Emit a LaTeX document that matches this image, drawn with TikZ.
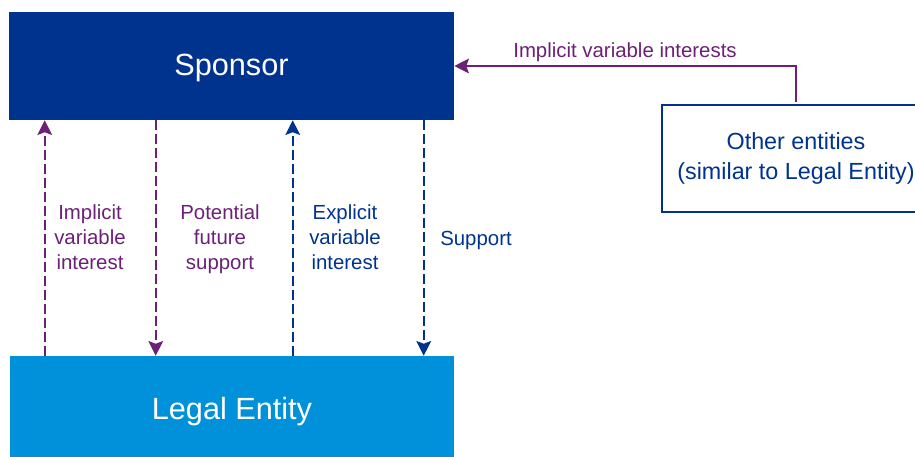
\documentclass[tikz,border=0pt]{standalone}
\usepackage{fontspec}
\setmainfont{Liberation Sans}
\usetikzlibrary{arrows.meta}
\definecolor{kdark}{HTML}{00338D}
\definecolor{klight}{HTML}{0091DA}
\definecolor{kpurple}{HTML}{6D2077}
\begin{document}
\begin{tikzpicture}[x=0.75pt,y=-0.75pt,
  bigbox/.style={draw=none,inner sep=0pt,text=white,font=\fontsize{23}{27}\selectfont},
  lbl/.style={align=center,inner sep=0pt,anchor=base,font=\fontsize{15.3}{18.4}\selectfont},
  dasharr/.style={dash pattern=on 7pt off 3.5pt,line width=1.25pt,-{Stealth[length=11pt,width=11pt,inset=2pt]}},
  solarr/.style={line width=1.1pt,-{Stealth[length=11pt,width=11pt,inset=2pt]}}]
\useasboundingbox (0,0) rectangle (915,457);
\clip (0,0) rectangle (915,457);
\fill[white] (0,0) rectangle (915,457);
\node[bigbox,fill=kdark,minimum width=333.75pt,minimum height=81pt] (sponsor) at (231.5,66) {\raisebox{-6.75pt}[0pt][0pt]{Sponsor}};
\node[bigbox,fill=klight,minimum width=333pt,minimum height=75.75pt] (legal) at (232,406.5) {\raisebox{-10.1pt}[0pt][0pt]{Legal Entity}};
\node[draw=kdark,line width=0.8pt,text=kdark,align=center,inner sep=0pt,minimum width=201pt,minimum height=80.25pt,font=\fontsize{17.5}{22.5}\selectfont] (other) at (796,158.5) {Other entities\\(similar to Legal Entity)};
% dashed connectors
\draw[dasharr,kpurple] ([xshift=26.25pt]legal.north west) -- ([xshift=26.25pt]legal.north west |- sponsor.south);
\draw[dasharr,kpurple] ([xshift=109.5pt]legal.north west |- sponsor.south) -- ([xshift=109.5pt]legal.north west);
\draw[dasharr,kdark] ([xshift=212.25pt]legal.north west) -- ([xshift=212.25pt]legal.north west |- sponsor.south);
\draw[dasharr,kdark] ([xshift=310.5pt]legal.north west |- sponsor.south) -- ([xshift=310.5pt]legal.north west);
% labels
\node[lbl,text=kpurple] (l1) at (90,269) {Implicit\\variable\\interest};
\node[lbl,text=kpurple] (l2) at (220,269) {Potential\\future\\support};
\node[lbl,text=kdark] (l3) at (345,269) {Explicit\\variable\\interest};
\node[lbl,text=kdark] (l4) at (476,245) {Support};
% other entities connector
\draw[solarr,kpurple] ([yshift=1.5pt]other.north) |- (sponsor.east);
\node[lbl,text=kpurple] (l5) at (625,57) {Implicit variable interests};
\end{tikzpicture}
\end{document}
